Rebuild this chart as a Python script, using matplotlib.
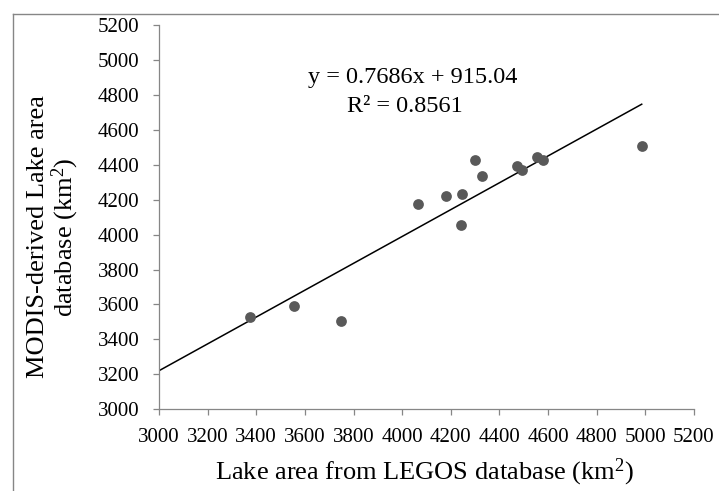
import matplotlib
matplotlib.use("Agg")
import matplotlib.pyplot as plt
import numpy as np
from matplotlib.lines import Line2D

plt.rcParams['font.family'] = ['Liberation Serif', 'DejaVu Serif']
plt.rcParams['mathtext.fontset'] = 'custom'
plt.rcParams['mathtext.rm'] = 'Liberation Serif'
plt.rcParams['mathtext.it'] = 'Liberation Serif:italic'

# lake areas (km2)
legos = [3373, 3557, 3749, 4066, 4180, 4246, 4240, 4299, 4329, 4473, 4492, 4555, 4581, 4985]
modis = [3527, 3591, 3504, 4177, 4221, 4234, 4053, 4429, 4334, 4391, 4368, 4443, 4427, 4507]

slope = 0.7686
intercept = 915.04
r2 = 0.8561

ticks = list(range(3000, 5201, 200))

gray = '#868686'
W, H = 719, 491

fig = plt.figure(figsize=(W / 100, H / 100), dpi=100)
ax = fig.add_axes([159 / W, 1 - 409.3 / H, (694 - 159) / W, (409.3 - 25) / H])

ax.scatter(legos, modis, s=60, color='#595959', zorder=3, linewidths=0)

xl = np.array([3000, max(legos)])
ax.plot(xl, slope * xl + intercept, color='black', lw=1.1, zorder=2)

ax.set_xlim(3000, 5200)
ax.set_ylim(3000, 5200)
ax.set_xticks(ticks)
ax.set_yticks(ticks)
ax.tick_params(labelsize=15, length=4.2, width=0.9, color=gray, direction='out')
ax.tick_params(axis='x', pad=9)
ax.tick_params(axis='y', pad=10)

for s in ['top', 'right']:
    ax.spines[s].set_visible(False)
for s in ['left', 'bottom']:
    ax.spines[s].set_color(gray)
    ax.spines[s].set_linewidth(0.9)

# axis titles
fig.text(424 / W, 1 - 479 / H, 'Lake area from LEGOS database (km$^2$)',
         ha='center', va='baseline', fontsize=19)
fig.text(54 / W, 1 - 237 / H, 'MODIS-derived Lake area\ndatabase (km$^2$)',
         ha='center', va='center', rotation=90, fontsize=19, linespacing=1.0,
         multialignment='center')

# trendline label
fig.text(413 / W, 1 - 78 / H, 'y = %.4fx + %.2f' % (slope, intercept),
         ha='center', va='center', fontsize=17.5)
fig.text(405 / W, 1 - 106 / H, 'R² = %.4f' % r2,
         ha='center', va='center', fontsize=17.5)

# chart area border (only top and left show)
fig.add_artist(Line2D([13.3 / W, 13.3 / W], [0, 1 - 14.3 / H],
                      transform=fig.transFigure, color=gray, lw=1))
fig.add_artist(Line2D([13.3 / W, 1], [1 - 14.3 / H, 1 - 14.3 / H],
                      transform=fig.transFigure, color=gray, lw=1))

fig.savefig('out.png', dpi=100)
